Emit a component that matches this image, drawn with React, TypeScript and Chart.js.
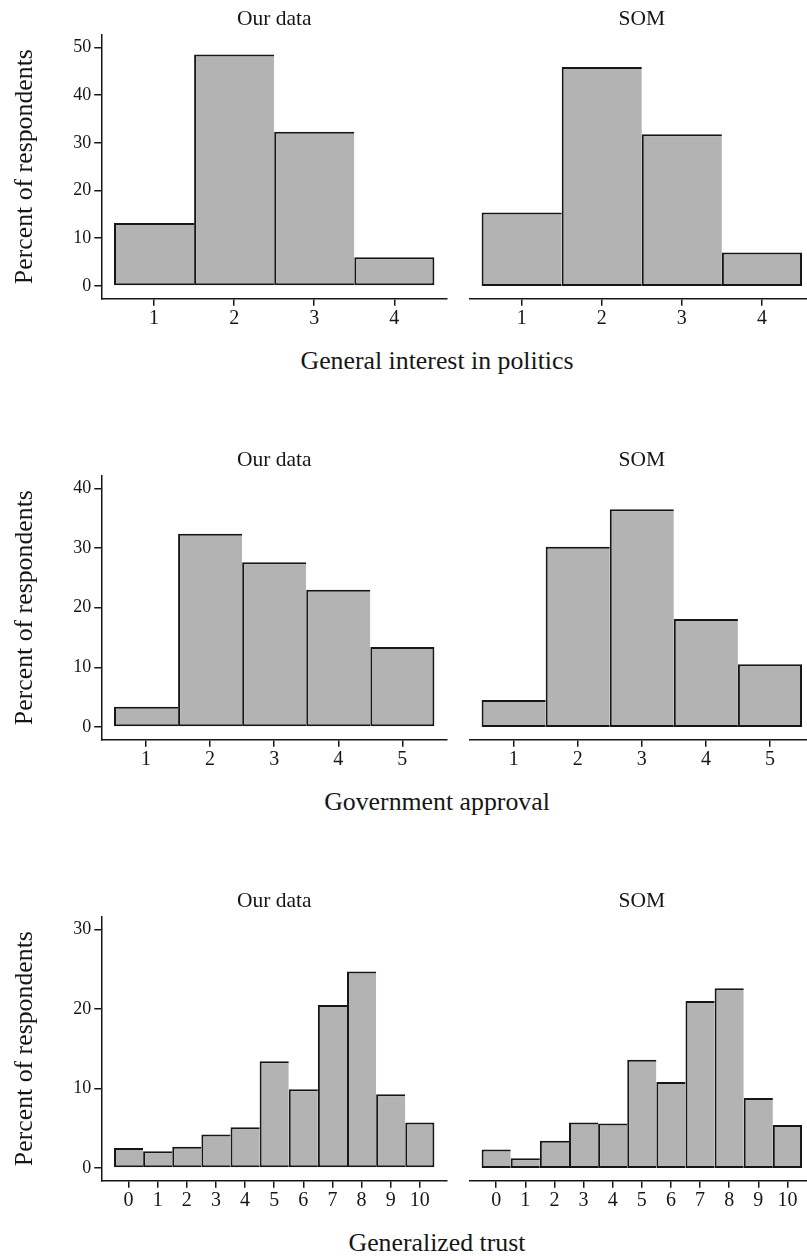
import React, { useEffect, useRef } from "react";
import { Chart, registerables } from "chart.js";

Chart.register(...registerables);

const FONT = "'Liberation Serif', 'Times New Roman', serif";
const INK = "#161616";
const BAR_FILL = "#b3b3b3";

// General interest in politics (percent of respondents)
const interestCategories = [1, 2, 3, 4];
const interestOurData = [13.2, 48.5, 32.3, 6.0];
const interestSom = [15.4, 45.9, 31.8, 7.0];
const interestTicks = [0, 10, 20, 30, 40, 50];

// Government approval
const approvalCategories = [1, 2, 3, 4, 5];
const approvalOurData = [3.4, 32.4, 27.6, 23.0, 13.4];
const approvalSom = [4.5, 30.2, 36.5, 18.1, 10.5];
const approvalTicks = [0, 10, 20, 30, 40];

// Generalized trust
const trustCategories = [0, 1, 2, 3, 4, 5, 6, 7, 8, 9, 10];
const trustOurData = [2.5, 2.1, 2.65, 4.2, 5.1, 13.4, 9.9, 20.5, 24.7, 9.25, 5.7];
const trustSom = [2.3, 1.2, 3.4, 5.7, 5.6, 13.6, 10.8, 21.0, 22.6, 8.8, 5.4];
const trustTicks = [0, 10, 20, 30];

const panelTitles = ["Our data", "SOM"];
const rowTitles = ["General interest in politics", "Government approval", "Generalized trust"];
const yAxisTitle = "Percent of respondents";

// Layout of one row of two panels
const ROW_STEP = 441;
const CANVAS_H = 340;
const Y_AXIS_W = 101.7;
const X_AXIS_H = 41.7;
const PLOT_W = 345;
const LEFT_CANVAS_W = 460;
const RIGHT_CANVAS_LEFT = 460;
const RIGHT_CANVAS_W = 360;
const RIGHT_PAD_LEFT = 9.3;
const EDGE_FRAC = 0.0384; // plot-region margin as a share of the bar span
const Y_EDGE_FRAC = 0.052;

type HistProps = {
  categories: number[];
  values: number[];
  ticks: number[];
  title: string;
  withYAxis: boolean;
  left: number;
  top: number;
};

function Histogram({ categories, values, ticks, title, withYAxis, left, top }: HistProps) {
  const ref = useRef<HTMLCanvasElement>(null);
  const width = withYAxis ? LEFT_CANVAS_W : RIGHT_CANVAS_W;

  useEffect(() => {
    const span = categories.length;
    const xPad = span * EDGE_FRAC;
    const yMax = ticks[ticks.length - 1];
    const last = values.length - 1;
    const lw = 2;
    const padLeft = withYAxis ? 0 : RIGHT_PAD_LEFT;
    const padRight = width - padLeft - (withYAxis ? Y_AXIS_W : 0) - PLOT_W;

    const chart = new Chart(ref.current!, {
      type: "bar",
      data: {
        datasets: [
          {
            data: categories.map((c, i) => ({ x: c, y: values[i] })),
            backgroundColor: BAR_FILL,
            borderColor: INK,
            borderWidth: (ctx: any) => ({
              top: lw,
              bottom: lw,
              left: lw,
              right: ctx.dataIndex === last ? lw : 0,
            }),
            borderSkipped: false,
            inflateAmount: 0,
            barPercentage: 1,
            categoryPercentage: 1,
          } as any,
        ],
      },
      options: {
        animation: false,
        responsive: false,
        events: [],
        layout: { padding: { left: padLeft, right: padRight, top: 0, bottom: 0 } },
        plugins: {
          legend: { display: false },
          tooltip: { enabled: false },
          title: {
            display: true,
            text: title,
            fullSize: false,
            color: INK,
            font: { family: FONT, size: 21.5, weight: "normal" },
            padding: { top: 6, bottom: 3.2 },
          },
        },
        scales: {
          x: {
            type: "linear",
            offset: false,
            min: categories[0] - 0.5 - xPad,
            max: categories[span - 1] + 0.5 + xPad,
            afterBuildTicks: (s: any) => {
              s.ticks = categories.map((v) => ({ value: v }));
            },
            afterFit: (s: any) => {
              s.height = X_AXIS_H;
            },
            grid: {
              offset: false,
              drawOnChartArea: false,
              drawTicks: true,
              tickLength: 7.5,
              color: INK,
              lineWidth: 1.5,
            },
            border: { display: true, color: INK, width: 1.5 },
            ticks: {
              padding: 1,
              autoSkip: false,
              maxRotation: 0,
              color: INK,
              font: { family: FONT, size: 20 },
            },
          },
          y: {
            type: "linear",
            display: withYAxis,
            min: -Y_EDGE_FRAC * yMax,
            max: (1 + Y_EDGE_FRAC) * yMax,
            afterBuildTicks: (s: any) => {
              s.ticks = ticks.map((v) => ({ value: v }));
            },
            afterFit: (s: any) => {
              s.width = withYAxis ? Y_AXIS_W : 0;
            },
            grid: {
              drawOnChartArea: false,
              drawTicks: true,
              tickLength: 7.4,
              color: INK,
              lineWidth: 1.5,
            },
            border: { display: true, color: INK, width: 1.5 },
            ticks: {
              padding: 3,
              color: INK,
              font: { family: FONT, size: 18 },
            },
            title: {
              display: true,
              text: yAxisTitle,
              color: INK,
              font: { family: FONT, size: 25.8 },
              padding: { top: 9.5, bottom: 0 },
            },
          },
        },
      } as any,
    });
    return () => chart.destroy();
  }, [categories, values, ticks, title, withYAxis, width]);

  return (
    <canvas
      ref={ref}
      width={width}
      height={CANVAS_H}
      style={{ position: "absolute", left, top, width, height: CANVAS_H }}
    />
  );
}

const rows = [
  { categories: interestCategories, ours: interestOurData, som: interestSom, ticks: interestTicks },
  { categories: approvalCategories, ours: approvalOurData, som: approvalSom, ticks: approvalTicks },
  { categories: trustCategories, ours: trustOurData, som: trustSom, ticks: trustTicks },
];

export default function App() {
  return (
    <div
      style={{
        position: "absolute",
        left: 0,
        top: 0,
        width: 807,
        height: 1260,
        overflow: "hidden",
        background: "#fff",
      }}
    >
      {rows.map((row, r) => (
        <React.Fragment key={r}>
          <Histogram
            categories={row.categories}
            values={row.ours}
            ticks={row.ticks}
            title={panelTitles[0]}
            withYAxis={true}
            left={0}
            top={r * ROW_STEP}
          />
          <Histogram
            categories={row.categories}
            values={row.som}
            ticks={row.ticks}
            title={panelTitles[1]}
            withYAxis={false}
            left={RIGHT_CANVAS_LEFT}
            top={r * ROW_STEP}
          />
          <div
            style={{
              position: "absolute",
              left: 0,
              top: r * ROW_STEP + 348,
              width: 874,
              textAlign: "center",
              whiteSpace: "nowrap",
              fontFamily: FONT,
              fontSize: 25.8,
              lineHeight: 1,
              color: INK,
            }}
          >
            {rowTitles[r]}
          </div>
        </React.Fragment>
      ))}
    </div>
  );
}
